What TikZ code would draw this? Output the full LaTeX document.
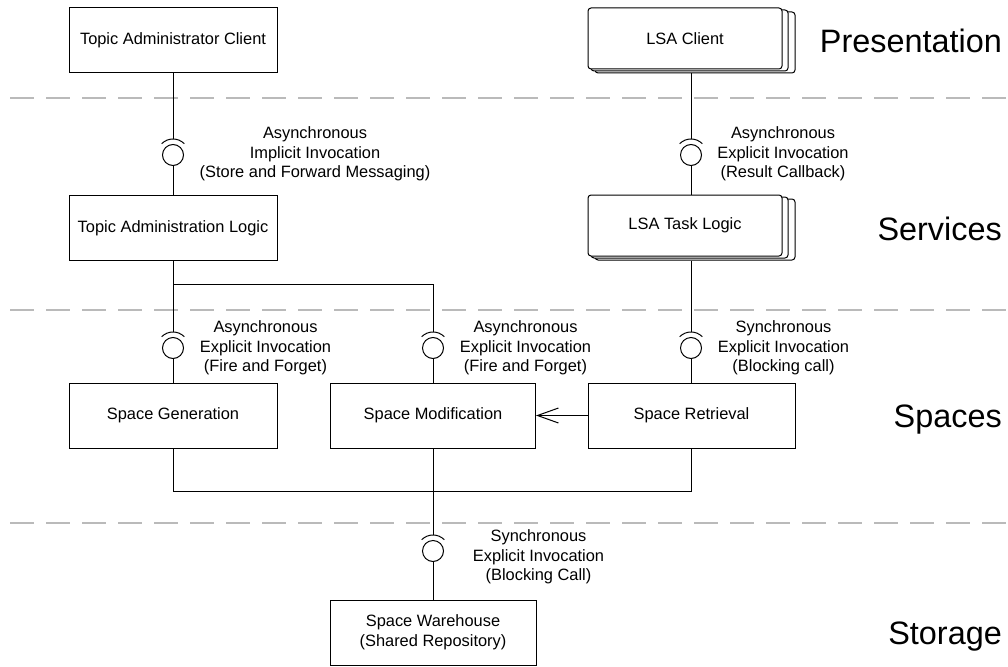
\documentclass[tikz,border=0pt]{standalone}
\usepackage{fontspec}
\setmainfont{Liberation Sans}
\usetikzlibrary{arrows.meta}

\tikzset{
  conn/.style={draw=black, line width=1pt},
  box/.style={draw=black, line width=1pt, fill=white, inner sep=0pt,
    minimum width=208pt, minimum height=65pt, align=center,
    font=\fontsize{16.4}{19.5}\selectfont},
  stackbox/.style={box, rounded corners=3pt, minimum width=#1, minimum height=61pt},
  ball/.style={circle, draw=black, line width=1pt, fill=white, inner sep=0pt, minimum size=21pt},
  lbl/.style={align=center, inner sep=0pt, font=\fontsize{16.4}{19.5}\selectfont},
  layer/.style={anchor=base east, inner sep=0pt, font=\fontsize{32.4}{40}\selectfont},
  sep/.style={draw=black!27, line width=2.6pt, dash pattern=on 24pt off 12pt},
  socket/.pic={
    \coordinate (-top) at (0,-16);
    \draw[conn] (225:16) arc[start angle=225, end angle=315, radius=16];
    \node[ball] (-ball) at (0,0) {};
  }
}

\begin{document}
\begin{tikzpicture}[x=1pt, y=-1pt]
\useasboundingbox (0,0) rectangle (1008,666);

% layer separators
\draw[sep] (10,98) -- (1008,98);
\draw[sep] (10,310) -- (1008,310);
\draw[sep] (10,523) -- (1008,523);

% layer names
\node[layer] (lp) at (1002,53) {Presentation};
\node[layer] (ls) at (1002,240) {Services};
\node[layer] (lsp) at (1002,427.5) {Spaces};
\node[layer] (lst) at (1002,644.5) {Storage};

% components
\node[box] (tac) at (173,40.5) {Topic Administrator Client};
\node[box] (tal) at (173,228.2) {Topic Administration Logic};
\node[box] (sg) at (173,415.5) {Space Generation};
\node[box, minimum width=205pt] (sm) at (433,415.5) {Space Modification};
\node[box, minimum width=207pt] (sr) at (691.5,415.5) {Space Retrieval};
\node[box, minimum width=206pt] (sw) at (433,632.5) {Space Warehouse\\(Shared Repository)};

% multi-instance components drawn as stacks
\node[stackbox=200pt] (lsac3) at (695,42.5) {};
\node[stackbox=197pt] (lsac2) at (689.5,40.5) {};
\node[stackbox=194pt] (lsac) at (685,38.5) {LSA Client};
\node[stackbox=200pt] (lsat3) at (695,229.5) {};
\node[stackbox=197pt] (lsat2) at (689.5,227.5) {};
\node[stackbox=194pt] (lsat) at (685,225.5) {LSA Task Logic};

% ball-and-socket interfaces
\pic (ka) at (173,155) {socket};
\pic (kb) at (691,155) {socket};
\pic (kc) at (173,348) {socket};
\pic (kd) at (433,348) {socket};
\pic (ke) at (691,348) {socket};
\pic (kf) at (433,551) {socket};

% interface labels
\node[lbl] (la) at (315,154) {Asynchronous\\Implicit Invocation\\(Store and Forward Messaging)};
\node[lbl] (lb) at (783,154) {Asynchronous\\Explicit Invocation\\(Result Callback)};
\node[lbl] (lc) at (265.5,348) {Asynchronous\\Explicit Invocation\\(Fire and Forget)};
\node[lbl] (ld) at (525.5,348) {Asynchronous\\Explicit Invocation\\(Fire and Forget)};
\node[lbl] (le) at (783.5,348) {Synchronous\\Explicit Invocation\\(Blocking call)};
\node[lbl] (lf) at (538.5,557) {Synchronous\\Explicit Invocation\\(Blocking Call)};

% connectors
\draw[conn] (tac.south) -- (ka-top);
\draw[conn] (ka-ball) -- (tal.north);
\draw[conn] (lsac3.south -| kb-top) -- (kb-top);
\draw[conn] (kb-ball) -- (lsat.north -| kb-ball);
\draw[conn] (tal.south) -- (kc-top);
\draw[conn] (tal.south) -- ++(0,23) -| (kd-top);
\draw[conn] (kc-ball) -- (sg.north);
\draw[conn] (kd-ball) -- (sm.north);
\draw[conn] (lsat3.south -| ke-top) -- (ke-top);
\draw[conn] (ke-ball) -- (sr.north -| ke-ball);
\draw[conn, -{Straight Barb[length=21pt, width=15pt]}] (sr.west) -- (sm.east);
\draw[conn] (sg.south) -- ++(0,43) -| (sr.south -| ke-ball);
\draw[conn] (sm.south) -- (kf-top);
\draw[conn] (kf-ball) -- (sw.north);
\end{tikzpicture}
\end{document}
